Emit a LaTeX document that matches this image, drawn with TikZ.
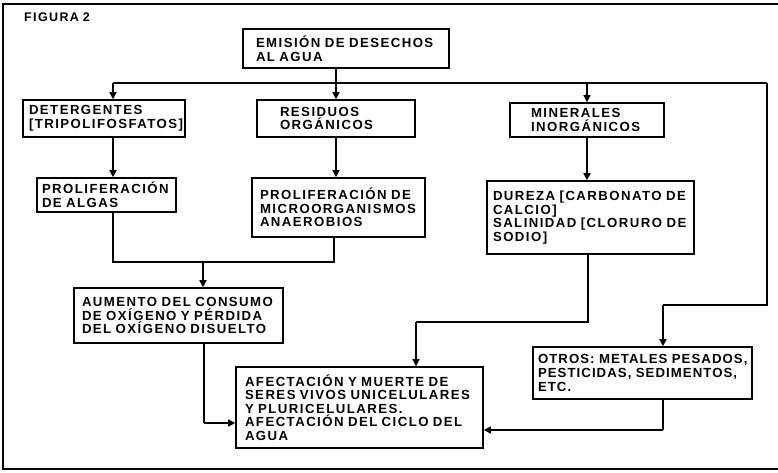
\documentclass[tikz,border=0pt]{standalone}
\usepackage{fontspec}
\setmainfont{Liberation Sans}
\newfontfamily\diagfont{Liberation Sans}[LetterSpace=11,WordSpace=0.8]
\newfontfamily\diagfonttight{Liberation Sans}[LetterSpace=8,WordSpace=0.7]
\usetikzlibrary{arrows.meta}
\begin{document}
\begin{tikzpicture}[x=1pt,y=-1pt,
  bx/.style={draw, line width=1.6pt, inner xsep=0pt, inner ysep=0pt, align=left,
    font=\diagfont\bfseries\fontsize{13.2}{13.6}\selectfont},
  bxtight/.style={bx, font=\diagfonttight\bfseries\fontsize{13.2}{13.6}\selectfont},
  con/.style={line width=1.5pt},
  arr/.style={con, -{Triangle[width=7pt,length=7pt]}},
  frm/.style={line width=1.6pt}]
\useasboundingbox (0,0) rectangle (778,472);
% frame
\coordinate (f1) at (778,4);
\coordinate (f2) at (3,4);
\coordinate (f3) at (3,469);
\coordinate (f4) at (778,469);
\draw[frm] (f1) -- (f2) -- (f3) -- (f4);
\node[anchor=west, inner sep=0pt, font=\diagfont\bfseries\fontsize{12.5}{13}\selectfont] (fig) at (24,17) {FIGURA 2};
% boxes
\node[bx, minimum width=206pt, minimum height=39pt, text width=180pt] (emi) at (346,48.5)
  {\mbox{EMISIÓN DE DESECHOS}\\\mbox{AL AGUA}};
\node[bx, minimum width=162pt, minimum height=37pt, text width=150pt] (det) at (104,118.5)
  {\mbox{DETERGENTES}\\\mbox{[TRIPOLIFOSFATOS]}};
\node[bx, minimum width=158pt, minimum height=37pt, text width=112pt] (res) at (336,118.5)
  {\mbox{RESIDUOS}\\\mbox{ORGÁNICOS}};
\node[bx, minimum width=154pt, minimum height=34pt, text width=112pt] (min) at (587,120)
  {\mbox{MINERALES}\\\mbox{INORGÁNICOS}};
\node[bx, minimum width=139pt, minimum height=34pt, text width=129pt] (alg) at (106.5,195)
  {\mbox{PROLIFERACIÓN}\\\mbox{DE ALGAS}};
\node[bx, minimum width=173pt, minimum height=59pt, text width=157pt] (mic) at (338.5,207.5)
  {\mbox{PROLIFERACIÓN DE}\\\mbox{MICROORGANISMOS}\\\mbox{ANAEROBIOS}};
\node[bx, minimum width=207pt, minimum height=73pt, text width=195pt] (dur) at (590.5,217.5)
  {\mbox{DUREZA [CARBONATO DE}\\\mbox{CALCIO]}\\\mbox{SALINIDAD [CLORURO DE}\\\mbox{SODIO]}};
\node[bx, minimum width=209pt, minimum height=55pt, text width=193pt] (aum) at (178.5,315.5)
  {\mbox{AUMENTO DEL CONSUMO}\\\mbox{DE OXÍGENO Y PÉRDIDA}\\\mbox{DEL OXÍGENO DISUELTO}};
\node[bx, minimum width=247pt, minimum height=81pt, text width=229pt] (afe) at (359.5,407.5)
  {\mbox{AFECTACIÓN Y MUERTE DE}\\\mbox{SERES VIVOS UNICELULARES}\\\mbox{Y PLURICELULARES.}\\\mbox{AFECTACIÓN DEL CICLO DEL}\\\mbox{AGUA}};
\node[bxtight, minimum width=219pt, minimum height=52pt, text width=209pt] (otr) at (642.5,373)
  {\mbox{OTROS: METALES PESADOS,}\\\mbox{PESTICIDAS, SEDIMENTOS,}\\\mbox{ETC.}};
% junction points
\coordinate (hl) at (113,83);
\coordinate (hr) at (767,83);
\coordinate (hm) at (587,83);
\coordinate (rb) at (767,305);
\coordinate (rc) at (663,305);
\coordinate (ab) at (113,262);
\coordinate (mb) at (334,262);
\coordinate (jm) at (203,262);
\coordinate (ub) at (204,423);
\coordinate (db) at (588,322);
\coordinate (dc) at (416,322);
\coordinate (ob) at (663,430);
% connectors
\draw[arr] (emi.south -| res.north) -- (res.north);
\draw[con] (hl) -- (hr);
\draw[arr] (hl) -- (hl |- det.north);
\draw[arr] (hm) -- (min.north);
\draw[con] (hr) -- (rb) -- (rc);
\draw[arr] (rc) -- (rc |- otr.north);
\draw[arr] (hl |- det.south) -- (hl |- alg.north);
\draw[arr] (res.south) -- (res.south |- mic.north);
\draw[arr] (min.south) -- (min.south |- dur.north);
\draw[con] (ab |- alg.south) -- (ab) -- (mb) -- (mb |- mic.south);
\draw[arr] (jm) -- (jm |- aum.north);
\draw[con] (ub |- aum.south) -- (ub);
\draw[arr] (ub) -- (ub -| afe.west);
\draw[con] (db |- dur.south) -- (db) -- (dc);
\draw[arr] (dc) -- (dc |- afe.north);
\draw[con] (ob |- otr.south) -- (ob);
\draw[arr] (ob) -- (ob -| afe.east);
\end{tikzpicture}
\end{document}
